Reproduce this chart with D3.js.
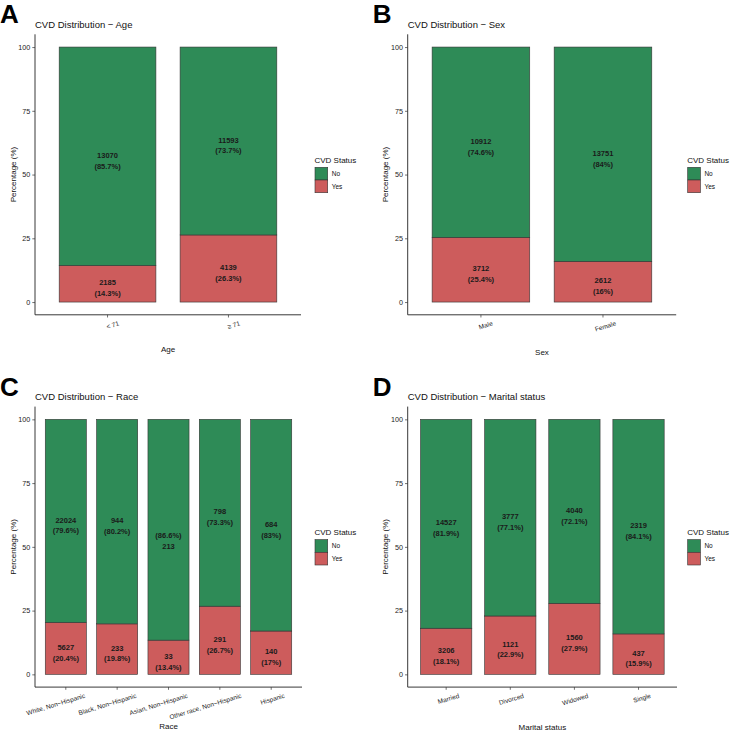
<!DOCTYPE html>
<html lang="en">
<head>
<meta charset="UTF-8">
<title>CVD Distribution</title>
<script src="https://d3js.org/d3.v7.min.js"></script>
<style>
  body { margin: 0; background: #fff; }
  svg text { font-family: "Liberation Sans", Arial, sans-serif; }
</style>
</head>
<body>
<svg width="731" height="731"></svg>
<script>
// counts
const ageGroups = ["< 71", "≥ 71"];
const ageNo = [13070, 11593];
const ageYes = [2185, 4139];

const sexGroups = ["Male", "Female"];
const sexNo = [10912, 13751];
const sexYes = [3712, 2612];

const raceGroups = ["White, Non−Hispanic", "Black, Non−Hispanic", "Asian, Non−Hispanic", "Other race, Non−Hispanic", "Hispanic"];
const raceNo = [22024, 944, 213, 798, 684];
const raceYes = [5627, 233, 33, 291, 140];

const maritalGroups = ["Married", "Divorced", "Widowed", "Single"];
const maritalNo = [14527, 3777, 4040, 2319];
const maritalYes = [3206, 1121, 1560, 437];

const statusLevels = ["No", "Yes"];
const statusColors = ["#2E8B57", "#CD5C5C"];
const yTicks = [0, 25, 50, 75, 100];

// panel layout (offsets of each facet inside the 731x731 figure)
const panels = [
  { letter: "A", title: "CVD Distribution − Age", xTitle: "Age", groups: ageGroups, no: ageNo, yes: ageYes, ox: 0, oy: 0, right: 301, xTitleY: 349 },
  { letter: "B", title: "CVD Distribution − Sex", xTitle: "Sex", groups: sexGroups, no: sexNo, yes: sexYes, ox: 372.7, oy: 0, right: 303.5, xTitleY: 352 },
  { letter: "C", title: "CVD Distribution − Race", xTitle: "Race", groups: raceGroups, no: raceNo, yes: raceYes, ox: 0, oy: 372.3, right: 302, xTitleY: 354.4 },
  { letter: "D", title: "CVD Distribution − Marital status", xTitle: "Marital status", groups: maritalGroups, no: maritalNo, yes: maritalYes, ox: 372.7, oy: 372.3, right: 304.3, xTitleY: 354.7 }
];

const plotLeft = 35, plotTop = 34.3, plotBottom = 314.8;
const labelAngle = 17;
const fmtPct = v => String(+v.toFixed(1));

const svg = d3.select("svg");

panels.forEach(p => {
  const g = svg.append("g").attr("transform", `translate(${p.ox},${p.oy})`);

  const x = d3.scaleBand()
    .domain(p.groups)
    .range([plotLeft, p.right])
    .paddingInner(0.2)
    .paddingOuter(0.2);

  const y = d3.scaleLinear()
    .domain([-5, 105])
    .range([plotBottom, plotTop]);

  // stack No on top of Yes
  const rows = p.groups.map((grp, i) => {
    const total = p.no[i] + p.yes[i];
    return { group: grp, No: p.no[i] / total * 100, Yes: p.yes[i] / total * 100, nNo: p.no[i], nYes: p.yes[i] };
  });
  const stack = d3.stack().keys(["Yes", "No"])(rows);

  const color = d3.scaleOrdinal().domain(statusLevels).range(statusColors);

  stack.forEach(layer => {
    g.selectAll(null)
      .data(layer)
      .enter()
      .append("rect")
      .attr("x", d => x(d.data.group))
      .attr("y", d => y(d[1]))
      .attr("width", x.bandwidth())
      .attr("height", d => y(d[0]) - y(d[1]))
      .attr("fill", color(layer.key))
      .attr("stroke", "#333")
      .attr("stroke-width", 0.6);
  });

  // segment labels
  stack.forEach(layer => {
    layer.forEach(d => {
      const key = layer.key;
      const n = key === "No" ? d.data.nNo : d.data.nYes;
      const pct = key === "No" ? d.data.No : d.data.Yes;
      let lines = [String(n), `(${fmtPct(pct)}%)`];
      let shift = 0;
      // the Asian "No" label is printed the other way round in the source
      if (p.letter === "C" && d.data.group === "Asian, Non−Hispanic" && key === "No") {
        lines = lines.reverse();
        shift = 6.5;
      }
      const mid = y((d[0] + d[1]) / 2) + shift;
      const cx = x(d.data.group) + x.bandwidth() / 2;
      const t = g.append("text")
        .attr("text-anchor", "middle")
        .attr("font-size", 7.5)
        .attr("font-weight", "bold")
        .attr("fill", "#1a1a1a");
      t.append("tspan").attr("x", cx).attr("y", mid - 1).attr("dy", "0.35em").text(lines[0]);
      t.append("tspan").attr("x", cx).attr("y", mid + 9.7).attr("dy", "0.35em").text(lines[1]);
    });
  });

  // y axis
  const yAxis = g.append("g")
    .attr("transform", `translate(${plotLeft},0)`)
    .call(d3.axisLeft(y).tickValues(yTicks).tickSize(2.7).tickPadding(2));
  yAxis.select(".domain").attr("d", `M0,${plotTop}V${plotBottom}`).attr("stroke", "#222").attr("stroke-width", 0.9);
  yAxis.selectAll(".tick line").attr("stroke", "#333").attr("stroke-width", 0.7);
  yAxis.selectAll(".tick text").attr("font-size", 7.2).attr("fill", "#222")
    .style("font-family", "'Liberation Sans', Arial, sans-serif");

  // x axis
  const xAxis = g.append("g")
    .attr("transform", `translate(0,${plotBottom})`)
    .call(d3.axisBottom(x).tickSize(2.7).tickSizeOuter(0));
  xAxis.select(".domain").attr("d", `M${plotLeft},0H${p.right}`).attr("stroke", "#222").attr("stroke-width", 0.9);
  xAxis.selectAll(".tick line").attr("stroke", "#333").attr("stroke-width", 0.7);
  const cosA = Math.cos(labelAngle * Math.PI / 180);
  xAxis.selectAll(".tick text")
    .attr("font-size", 6.5)
    .attr("fill", "#222")
    .style("font-family", "'Liberation Sans', Arial, sans-serif")
    .attr("text-anchor", "end")
    .attr("y", 0)
    .attr("dy", "0.72em")
    .each(function () {
      // right end of each rotated label sits a little right of its tick
      const w = this.getComputedTextLength() * cosA;
      d3.select(this).attr("transform", `translate(${8.5 + 0.17 * w},6) rotate(-${labelAngle})`);
    });

  // axis titles
  g.append("text")
    .attr("x", (plotLeft + p.right) / 2)
    .attr("y", p.xTitleY)
    .attr("dy", "0.35em")
    .attr("text-anchor", "middle")
    .attr("font-size", 8)
    .attr("fill", "#111")
    .text(p.xTitle);

  g.append("text")
    .attr("transform", `translate(15.5,${(plotTop + plotBottom) / 2}) rotate(-90)`)
    .attr("text-anchor", "middle")
    .attr("font-size", 8)
    .attr("fill", "#111")
    .text("Percentage (%)");

  // title and panel letter
  g.append("text")
    .attr("x", plotLeft)
    .attr("y", 27.5)
    .attr("font-size", 9.5)
    .attr("fill", "#111")
    .text(p.title);

  g.append("text")
    .attr("x", 0)
    .attr("y", 23.3)
    .attr("font-size", 26)
    .attr("font-weight", "bold")
    .attr("fill", "#000")
    .text(p.letter);

  // legend
  const lg = g.append("g").attr("transform", "translate(314.5,0)");
  lg.append("text")
    .attr("x", 0)
    .attr("y", 162.8)
    .attr("font-size", 8)
    .attr("fill", "#111")
    .text("CVD Status");
  const keySize = 12.7;
  statusLevels.forEach((s, i) => {
    lg.append("rect")
      .attr("x", 0.5)
      .attr("y", 167.3 + i * keySize)
      .attr("width", keySize)
      .attr("height", keySize)
      .attr("fill", statusColors[i])
      .attr("stroke", "#333")
      .attr("stroke-width", 0.6);
    lg.append("text")
      .attr("x", keySize + 4.5)
      .attr("y", 167.3 + i * keySize + keySize / 2)
      .attr("dy", "0.35em")
      .attr("font-size", 6.5)
      .attr("fill", "#111")
      .text(s);
  });
});
</script>
</body>
</html>
